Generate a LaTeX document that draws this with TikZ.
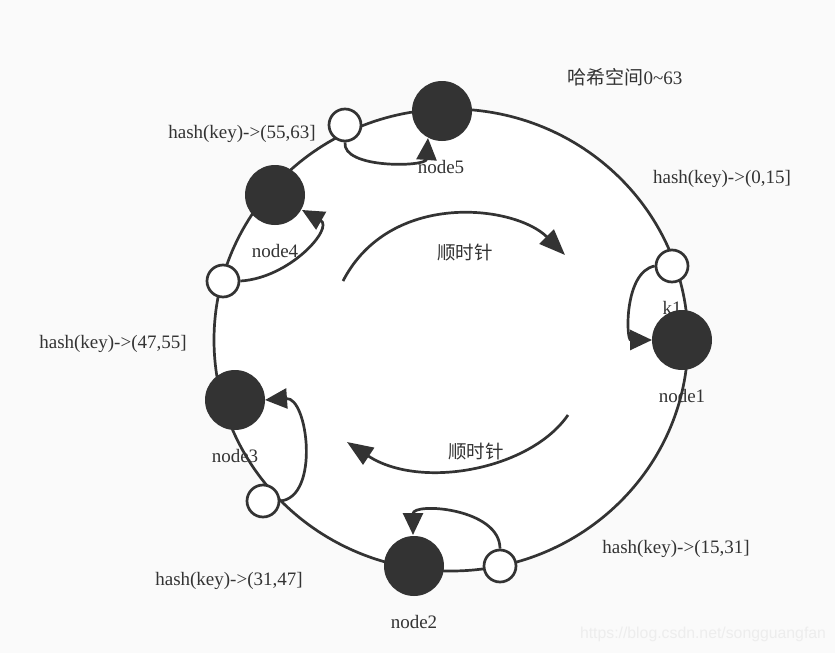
\documentclass[tikz,border=0pt]{standalone}
\usepackage{fontspec}
\setmainfont{Liberation Serif}
\newfontfamily\cjk{Noto Sans CJK SC}
\newfontfamily\wmfont{Liberation Sans}
\usetikzlibrary{arrows.meta}
\definecolor{ink}{HTML}{333333}
\definecolor{bg}{HTML}{FAFAFA}
\definecolor{wm}{HTML}{EDEDED}
\begin{document}
\begin{tikzpicture}[x=1pt,y=-1pt,
  server/.style={circle,fill=ink,draw=none,minimum size=60pt,inner sep=0pt},
  keypt/.style={circle,fill=white,draw=ink,line width=2.7pt,minimum size=32pt,inner sep=0pt},
  lbl/.style={text=ink,font=\fontsize{19}{23}\selectfont,inner sep=0pt},
  cjklbl/.style={text=ink,font=\cjk\fontsize{18.5}{23}\selectfont,inner sep=0pt},
  loop/.style={draw=ink,line width=2.7pt,-{Triangle[length=22pt,width=20pt]}},
  bigarrow/.style={draw=ink,line width=2.7pt,-{Triangle[length=26pt,width=20pt]}}]
\useasboundingbox[fill=bg] (0,0) rectangle (835,653);
% ring
\draw[ink,fill=white,line width=2.7pt] (451,340) ellipse [x radius=237, y radius=231];
% servers
\node[server] (n5) at (442,111) {};
\node[server] (n4) at (275,195) {};
\node[server] (n3) at (235,400) {};
\node[server] (n2) at (414,566) {};
\node[server] (n1) at (682,340) {};
% key points
\node[keypt] (w5) at (345,125) {};
\node[keypt] (w4) at (223,281) {};
\node[keypt] (w3) at (263,501) {};
\node[keypt] (w2) at (500,566) {};
\node[keypt] (w1) at (672,266) {};
% labels
\node[lbl] (l5) at (441,167) {node5};
\node[lbl] (l4) at (275,251) {node4};
\node[lbl] (l3) at (235,456) {node3};
\node[lbl] (l2) at (414,622) {node2};
\node[lbl] (l1) at (682,396) {node1};
\node[lbl] (lk) at (672,308) {k1};
\node[lbl] (h5) at (242,134) {hash(key)->(55,63]};
\node[lbl] (h1) at (722,179) {hash(key)->(0,15]};
\node[lbl] (h4) at (113,344) {hash(key)->(47,55]};
\node[lbl] (h3) at (229,581) {hash(key)->(31,47]};
\node[lbl] (h2) at (676,549) {hash(key)->(15,31]};
\node[lbl] (ttl) at (625,77) {{\cjk 哈希空间}0\textasciitilde 63};
\node[cjklbl] (cw1) at (465,253) {顺时针};
\node[cjklbl] (cw2) at (476,452) {顺时针};
% loops
\coordinate (t5) at (428,138);
\coordinate (t4) at (302,210);
\coordinate (t3) at (265,400);
\coordinate (t2) at (413,535);
\coordinate (t1) at (652,340);
\draw[loop] (w5.south) .. controls (342,169) and (426,167) .. (t5);
\draw[loop] (w4.east) .. controls (290,278) and (334,228) .. (t4);
\draw[loop] (w3.east) .. controls (320,497) and (308,397) .. (t3);
\draw[loop] (w2.north) .. controls (500,508) and (413,502) .. (t2);
\draw[loop] (w1.west) .. controls (624,272) and (626,340) .. (t1);
% big arrows
\coordinate (a1s) at (343,281);
\coordinate (a1e) at (565,255);
\coordinate (a2s) at (568,415);
\coordinate (a2e) at (347,442);
\draw[bigarrow] (a1s) .. controls (390,190) and (515,205) .. (a1e);
\draw[bigarrow] (a2s) .. controls (530,470) and (420,490) .. (a2e);
% watermark
\node[text=wm,font=\wmfont\fontsize{15.8}{19}\selectfont,inner sep=0pt] (wmk) at (703,634) {https://blog.csdn.net/songguangfan};
\end{tikzpicture}
\end{document}
